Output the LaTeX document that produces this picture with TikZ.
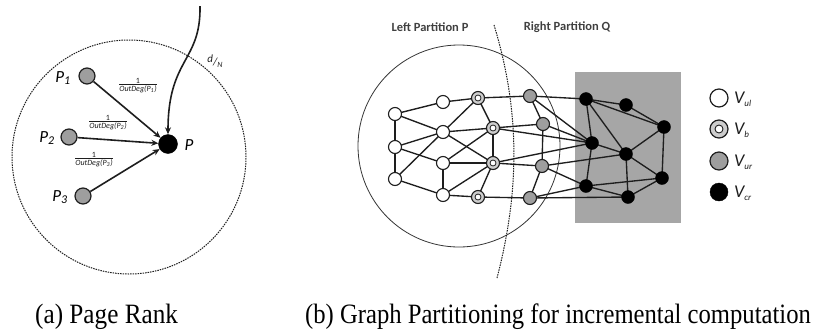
\documentclass[tikz,border=0pt]{standalone}
\usepackage{fontspec}
\usepackage{graphicx}
\setmainfont{Liberation Serif}
\newfontfamily\calfont{Carlito}
\usetikzlibrary{arrows.meta}
\pgfdeclarelayer{back}
\pgfdeclarelayer{mid}
\pgfsetlayers{back,mid,main}
\definecolor{ngray}{RGB}{158,158,158}
\definecolor{rgray}{RGB}{166,166,166}
\definecolor{lgray}{RGB}{205,205,205}
\definecolor{ink}{RGB}{30,30,30}
\newcommand\odfrac[1]{\calfont\begin{tabular}{@{}c@{}}1\\[-2pt]\hline\rule{0pt}{7.5pt}\itshape OutDeg(P\textsubscript{#1})\end{tabular}}
\newcommand\vsub[1]{V\raisebox{-3pt}{\fontsize{9}{9}\selectfont #1}}
\begin{document}
\begin{tikzpicture}[x=1pt,y=-1pt,
  every node/.style={inner sep=0pt},
  pr/.style={circle,draw=ink,fill=ngray,line width=1.2pt,minimum size=16pt},
  prk/.style={circle,fill=black,draw=black,minimum size=19pt},
  plab/.style={font=\calfont\itshape\fontsize{17}{17}\selectfont},
  arr/.style={line width=1.6pt,draw=ink,-{Stealth[length=7pt,width=6pt]}},
  flab/.style={font=\calfont\fontsize{8}{8}\selectfont,text=ink},
  vw/.style={circle,draw=ink,fill=white,line width=1.1pt,minimum size=13pt},
  vb/.style={circle,draw=ink,fill=lgray,line width=1.1pt,minimum size=13pt,
    path picture={\draw[ink,line width=0.8pt,fill=white] (path picture bounding box.center) circle (3pt);}},
  vg/.style={circle,draw=ink,fill=ngray,line width=1.1pt,minimum size=13pt},
  vc/.style={circle,fill=black,draw=black,minimum size=13pt},
  ed/.style={line width=1.35pt,draw=ink},
  legw/.style={vw,minimum size=18pt,line width=1.2pt},
  legb/.style={circle,draw=ink,fill=lgray,line width=1.2pt,minimum size=18pt,
    path picture={\draw[ink,line width=0.9pt,fill=white] (path picture bounding box.center) circle (4pt);}},
  legg/.style={vg,minimum size=18pt,line width=1.2pt},
  legc/.style={vc,minimum size=18pt},
  leglab/.style={anchor=west,font=\calfont\itshape\fontsize{18}{18}\selectfont,text=ink},
  ptext/.style={font=\calfont\bfseries\fontsize{12.5}{13}\selectfont,text=ink!85},
  captext/.style={anchor=base west,font=\fontsize{28}{30}\selectfont}
]
\useasboundingbox (0,0) rectangle (814,335);

% ---------- panel (a) ----------
\draw[ink,line width=1pt,dash pattern=on 1.5pt off 1pt] (129,157) circle (117pt);
\node[pr] (p1) at (87,76) {};
\node[pr] (p2) at (69,137) {};
\node[pr] (p3) at (83,196) {};
\node[prk] (p) at (168,144) {};
\node[plab] (lp1) at (63,78) {P\textsubscript{1}};
\node[plab] (lp2) at (47,138) {P\textsubscript{2}};
\node[plab] (lp3) at (60,197) {P\textsubscript{3}};
\node[plab] (lp) at (189,145) {P};
\draw[arr] (p1) -- (p);
\draw[arr] (p2) -- (p);
\draw[arr] (p3) -- (p);
\coordinate (top) at (200,6);
\draw[arr] (top) .. controls (201,62) and (168,58) .. (p.north);
\node[flab] (f1) at (138,86) {\odfrac{1}};
\node[flab] (f2) at (108,123) {\odfrac{2}};
\node[flab] (f3) at (94,160) {\odfrac{3}};
\node[font=\calfont\itshape\fontsize{11}{11}\selectfont,text=ink] (dn) at (215,61) {\raisebox{3pt}{d}/\raisebox{-2pt}{\fontsize{8}{8}\selectfont N}};

% ---------- panel (b) ----------
\begin{pgfonlayer}{back}
  \fill[rgray] (575,72) rectangle (681,223);
  \draw[ink!90,line width=0.8pt] (459,146) circle (101pt);
  \draw[ink,line width=1pt,dash pattern=on 1.5pt off 1pt] (494,25) .. controls (520,110) and (520,190) .. (497,278);
\end{pgfonlayer}
\node[ptext] (lpt) at (430,27) {Left Partition P};
\node[ptext] (rpt) at (567,27) {Right Partition Q};

\node[vw] (w1) at (395,114) {};
\node[vw] (w2) at (395,147) {};
\node[vw] (w3) at (395,179) {};
\node[vw] (w4) at (443,102) {};
\node[vw] (w5) at (443,132) {};
\node[vw] (w6) at (443,163) {};
\node[vw] (w7) at (443,195) {};
\node[vb] (b1) at (478,98) {};
\node[vb] (b2) at (493,128) {};
\node[vb] (b3) at (493,163) {};
\node[vb] (b4) at (478,197) {};
\node[vg] (g1) at (530,96) {};
\node[vg] (g2) at (543,124) {};
\node[vg] (g3) at (542,166) {};
\node[vg] (g4) at (530,198) {};
\node[vc] (c1) at (586,99) {};
\node[vc] (c2) at (626,105) {};
\node[vc] (c3) at (664,127) {};
\node[vc] (c4) at (592,143) {};
\node[vc] (c5) at (626,154) {};
\node[vc] (c6) at (662,178) {};
\node[vc] (c7) at (586,186) {};
\node[vc] (c8) at (628,197) {};

\begin{pgfonlayer}{mid}
\foreach \a/\b in {w1/w2,w2/w3,w1/w4,w1/w5,w2/w5,w2/w6,w3/w5,w3/w7,w6/w7,
  w4/b1,w5/b1,w5/b2,w5/b3,w6/b2,w6/b3,w7/b3,w7/b4,
  b1/b2,b2/b3,b3/b4,b1/g1,b2/g2,b3/g3,b4/g4,
  g1/g2,g2/g3,g3/g4,
  g1/c1,g1/c4,g2/c4,b2/c4,b3/c4,g3/c5,g3/c7,g4/c7,g4/c8,
  c1/c2,c1/c3,c1/c4,c1/c5,c2/c3,c3/c5,c3/c6,c4/c5,c4/c7,c5/c6,c5/c8,c6/c7,c6/c8,c7/c8}
  \draw[ed] (\a.center) -- (\b.center);
\end{pgfonlayer}

% legend
\node[legw] (lw) at (719,98) {};
\node[legb] (lb) at (719,129) {};
\node[legg] (lg) at (719,161) {};
\node[legc] (lc) at (719,192) {};
\node[leglab] (tw) at (734,99) {\vsub{ul}};
\node[leglab] (tb) at (734,130) {\vsub{b}};
\node[leglab] (tg) at (734,162) {\vsub{ur}};
\node[leglab] (tc) at (734,193) {\vsub{cr}};

% captions
\node[captext] (capa) at (35,323) {\scalebox{0.9}[1]{(a) Page Rank}};
\node[captext] (capb) at (305,323) {\scalebox{0.88}[1]{(b) Graph Partitioning for incremental computation}};
\end{tikzpicture}
\end{document}
